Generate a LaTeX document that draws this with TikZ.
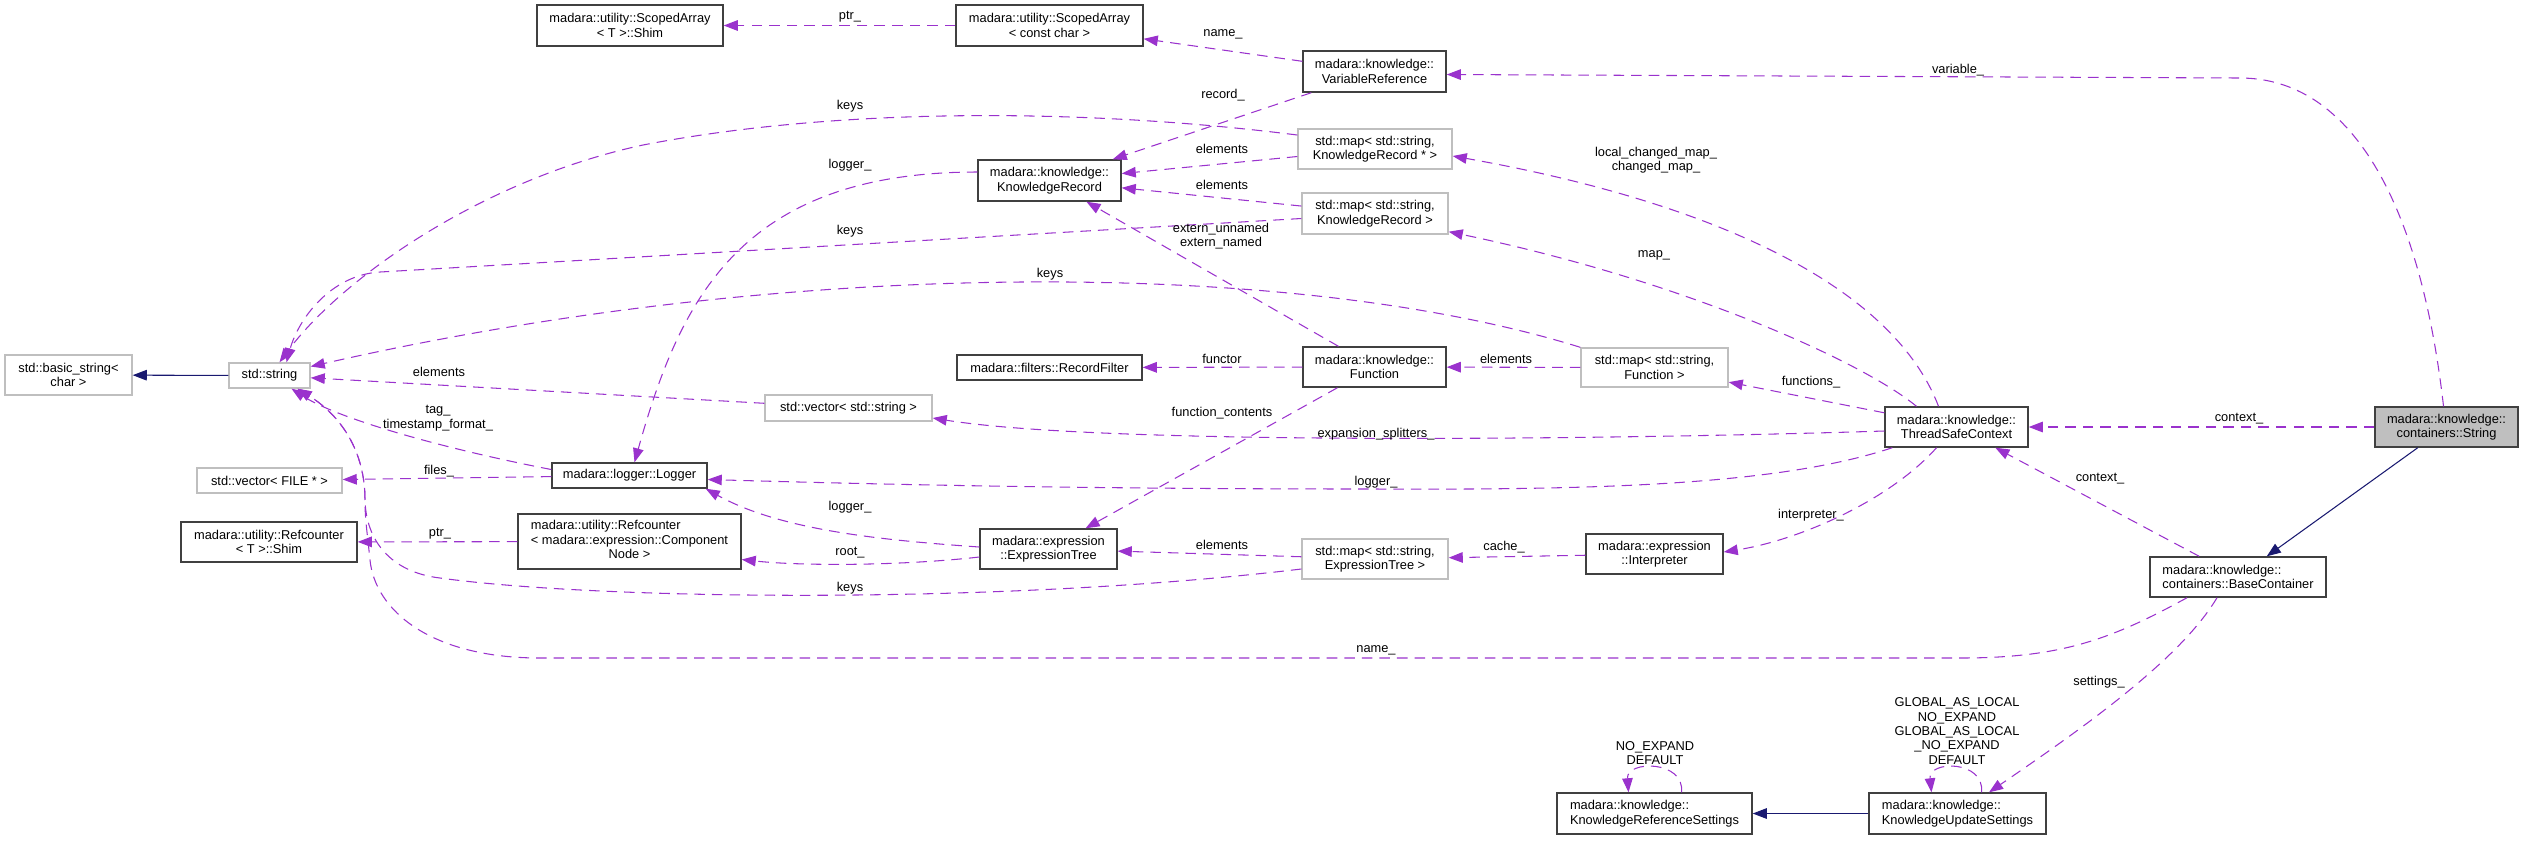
\documentclass[tikz,border=0pt]{standalone}
\usepackage{fontspec}
\setmainfont{Liberation Sans}
\usetikzlibrary{arrows.meta,calc}
\definecolor{edgepurple}{HTML}{9A32CD}
\definecolor{edgenavy}{HTML}{191970}
\definecolor{boxgray}{HTML}{BFBFBF}
\newcommand{\dotfont}{\fontsize{7.3pt}{8.2pt}\selectfont}

\begin{document}
\begin{tikzpicture}[x=0.02cm, y=-0.02cm,
  cls/.style={draw=black!75, fill=white, line width=0.8pt, inner sep=0pt, align=center, font=\dotfont},
  ext/.style={cls, draw=boxgray},
  cur/.style={cls, fill=boxgray},
  sz/.style 2 args={minimum width=#1*0.02cm, minimum height=#2*0.02cm},
  usedep/.style={draw=edgepurple, line width=0.6pt, dash pattern=on 6pt off 4pt, -{Triangle[length=8pt,width=6pt]}},
  inherit/.style={draw=edgenavy, line width=0.6pt, -{Triangle[length=8pt,width=6pt]}},
  lbl/.style={inner sep=0pt, align=center, font=\dotfont}]

  \useasboundingbox (0,0) rectangle (2524,840);

  %std classes, left column
  \node[ext, sz={127}{40}] (bstr) at (68.5,375) {std::basic\_string<\\char >};
  \node[ext, sz={81}{25}] (str) at (269.5,375.5) {std::string};
  \node[ext, sz={145}{25}] (vfile) at (269.5,480.5) {std::vector< FILE * >};
  \node[cls, sz={176}{40}] (rcshim) at (269,542) {madara::utility::Refcounter\\< T >::Shim};

  %second column
  \node[cls, sz={186}{41}] (sashim) at (630,25.5) {madara::utility::ScopedArray\\< T >::Shim};
  \node[cls, sz={155}{25}] (logger) at (629.5,475.5) {madara::logger::Logger};
  \node[cls, sz={223}{55}] (rcnode) at (629.5,541.5) {\begin{tabular}{@{}l@{}}madara::utility::Refcounter\\< madara::expression::Component\\\multicolumn{1}{@{}c@{}}{Node >}\end{tabular}};
  \node[ext, sz={167}{26}] (vstr) at (848.5,408) {std::vector< std::string >};

  %third column
  \node[cls, sz={187}{41}] (sacc) at (1049.5,25.5) {madara::utility::ScopedArray\\< const char >};
  \node[cls, sz={143}{41}] (kr) at (1049.5,180.5) {madara::knowledge::\\KnowledgeRecord};
  \node[cls, sz={185}{25}] (rf) at (1049.5,367.5) {madara::filters::RecordFilter};
  \node[cls, sz={137}{40}] (et) at (1048.5,549) {madara::expression\\::ExpressionTree};

  %fourth column
  \node[cls, sz={143}{41}] (vref) at (1374.5,71.5) {madara::knowledge::\\VariableReference};
  \node[ext, sz={154}{40}] (mkrp) at (1375,149) {std::map< std::string,\\KnowledgeRecord * >};
  \node[ext, sz={146}{41}] (mkr) at (1375,213.5) {std::map< std::string,\\KnowledgeRecord >};
  \node[cls, sz={143}{40}] (func) at (1374.5,367) {madara::knowledge::\\Function};
  \node[ext, sz={146}{40}] (met) at (1375,559) {std::map< std::string,\\ExpressionTree >};

  %fifth column
  \node[ext, sz={147}{39}] (mfunc) at (1654.5,367.5) {std::map< std::string,\\Function >};
  \node[cls, sz={137}{40}] (interp) at (1654.5,554) {madara::expression\\::Interpreter};
  \node[cls, sz={195}{41}, align=left] (krs) at (1654.5,813.5) {madara::knowledge::\\KnowledgeReferenceSettings};

  %right part
  \node[cls, sz={143}{40}] (tsc) at (1956.5,427) {madara::knowledge::\\ThreadSafeContext};
  \node[cls, sz={177}{41}, align=left] (kus) at (1957.5,813.5) {madara::knowledge::\\KnowledgeUpdateSettings};
  \node[cls, sz={176}{40}, align=left] (bc) at (2238,577) {madara::knowledge::\\containers::BaseContainer};
  \node[cur, sz={143}{40}] (kstr) at (2446.5,427) {madara::knowledge::\\containers::String};

  %edges into std::string
  \draw[inherit] (str) -- (bstr);
  \draw[usedep] ($(mkrp.west)+(0,-14)$) .. controls (1100,110) and (850,105) .. (643,145) .. controls (480,180) and (340,280) .. ($(str.north)+(10,0)$);
  \draw[usedep] ($(mkr.west)+(0,5)$) -- (380,272) .. controls (330,275) and (298,320) .. ($(str.north)+(17,0)$);
  \draw[usedep] (mfunc.north west) .. controls (1300,260) and (800,255) .. ($(str.east)+(0,-9)$);
  \draw[usedep] (vstr) -- (str);
  \draw[usedep] ($(logger.west)+(0,-6)$) .. controls (450,450) and (340,420) .. ($(str.south)+(22,0)$);
  \draw[usedep] ($(met.west)+(0,10)$) .. controls (1000,605) and (600,600) .. (440,578) .. controls (390,572) and (366,540) .. (365,500) .. controls (365,450) and (340,415) .. ($(str.south)+(28,0)$);
  \draw[usedep] ($(bc.south)+(-51,0)$) .. controls (2110,640) and (2060,658) .. (1960,658) -- (540,658) .. controls (430,658) and (375,610) .. (370,560) .. controls (367,530) and (365,520) .. (365,500) .. controls (365,450) and (340,415) .. ($(str.south)+(28,0)$);

  %edges in the middle
  \draw[usedep] (sacc) -- (sashim);
  \draw[usedep] (vref) -- (sacc);
  \draw[usedep] (vref) -- (kr);
  \draw[usedep] (mkrp) -- (kr);
  \draw[usedep] (mkr) -- (kr);
  \draw[usedep] (func) -- (kr);
  \draw[usedep] ($(kr.west)+(0,-8.5)$) .. controls (740,172) and (680,300) .. ($(logger.north)+(5,0)$);
  \draw[usedep] (logger) -- (vfile);
  \draw[usedep] (rcnode) -- (rcshim);
  \draw[usedep] ($(et.west)+(0,-2)$) .. controls (880,540) and (780,530) .. ($(logger.south east)+(-2,0)$);
  \draw[usedep] ($(et.west)+(0,8)$) .. controls (900,566) and (800,566) .. ($(rcnode.east)+(0,18)$);
  \draw[usedep] (func) -- (et);
  \draw[usedep] (func) -- (rf);
  \draw[usedep] (mfunc) -- (func);
  \draw[usedep] (met) -- (et);
  \draw[usedep] (interp) -- (met);

  %edges of the right part
  \draw[usedep] ($(kstr.north)+(-3,0)$) .. controls (2420,200) and (2350,78) .. (2240,78) -- ($(vref.east)+(0,3)$);
  \draw[usedep] (kstr) -- (tsc);
  \draw[inherit] (kstr) -- (bc);
  \draw[usedep] (bc) -- (tsc);
  \draw[usedep] ($(bc.south)+(-21,0)$) .. controls (2180,660) and (2080,730) .. ($(kus.north)+(31.5,0)$);
  \draw[usedep] ($(kus.north)+(24,0)$) .. controls (1985,760) and (1928,760) .. ($(kus.north)+(-26,0)$);
  \draw[usedep] ($(krs.north)+(27,0)$) .. controls (1685,760) and (1626,760) .. ($(krs.north)+(-26,0)$);
  \draw[inherit] (kus) -- (krs);
  \draw[usedep] ($(tsc.north)+(-18,0)$) .. controls (1890,280) and (1700,200) .. ($(mkrp.east)+(0,7)$);
  \draw[usedep] ($(tsc.north)+(-40,0)$) .. controls (1860,360) and (1680,280) .. ($(mkr.south east)+(0,-3)$);
  \draw[usedep] (tsc) -- (mfunc);
  \draw[usedep] ($(tsc.west)+(0,4)$) .. controls (1600,440) and (1100,445) .. ($(vstr.east)+(0,10)$);
  \draw[usedep] ($(tsc.south west)+(8,0)$) .. controls (1780,485) and (1600,490) .. (1376,489) .. controls (1100,489) and (900,485) .. ($(logger.east)+(0,4)$);
  \draw[usedep] ($(tsc.south)+(-20,0)$) .. controls (1890,500) and (1800,540) .. ($(interp.east)+(0,-2)$);

  %edge labels
  \foreach \x/\y/\txt/\nm in {850/17/ptr\_/lptra, 1223/34/name\_/lnamea, 1223/95/record\_/lrec,
      850/106/keys/lkeysa, 1222/149/elements/lelema, 850/165/logger\_/lloga, 1222/185/elements/lelemb,
      1221/236/extern\_unnamed\\extern\_named/lext, 850/231/keys/lkeysb, 1050/274/keys/lkeysc,
      1222/359/functor/lfunctor, 1506/359/elements/lelemc, 1222/413/function\_contents/lfc,
      1376/434/expansion\_splitters\_/lexp, 439/372/elements/leleme, 438/418/tag\_\\timestamp\_format\_/ltag,
      439/471/files\_/lfiles, 1376/482/logger\_/llogb, 440/534/ptr\_/lptrb, 850/507/logger\_/llogc,
      1222/545/elements/lelemd, 1504/547/cache\_/lcache, 850/553/root\_/lroot, 850/588/keys/lkeysd,
      1376/650/name\_/lnameb, 1958/70/variable\_/lvar, 1656/160/local\_changed\_map\_\\changed\_map\_/llcm,
      1654/255/map\_/lmap, 1811/382/functions\_/lfuncs, 2239/419/context\_/lctxa, 2100/479/context\_/lctxb,
      1811/515/interpreter\_/linterp, 2099/682/settings\_/lset,
      1957/731/GLOBAL\_AS\_LOCAL\\NO\_EXPAND\\GLOBAL\_AS\_LOCAL\\\_NO\_EXPAND\\DEFAULT/lflags,
      1655/753/NO\_EXPAND\\DEFAULT/lflagsb}{
    \node[lbl] (\nm) at (\x,\y) {\txt};
  }

\end{tikzpicture}
\end{document}
